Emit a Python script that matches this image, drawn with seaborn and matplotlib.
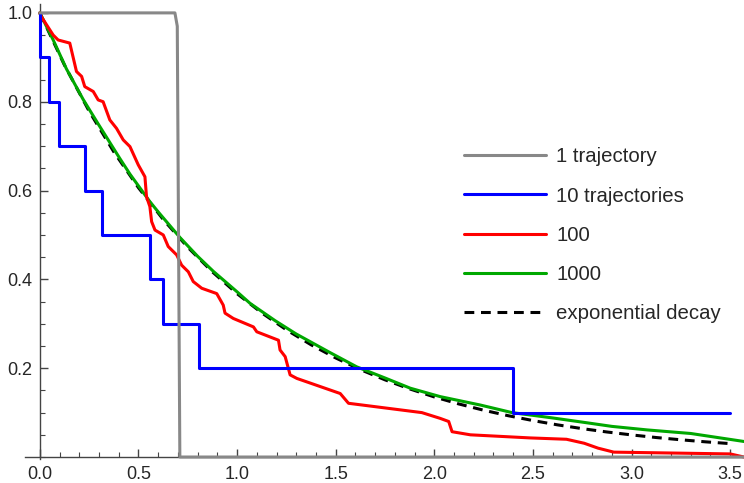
import matplotlib
matplotlib.use("Agg")
import matplotlib.pyplot as plt
import seaborn as sns
import pandas as pd
from matplotlib.ticker import MultipleLocator, FixedLocator, FixedFormatter

# ---------------- data ----------------
labels = ["1 trajectory", "10 trajectories", "100", "1000", "exponential decay"]

gray_t = [0.0, 0.685, 0.697, 0.710, 3.57]
gray_s = [1.0, 1.0, 0.97, 0.0, 0.0]

blue_t = [0.0, 0.0, 0.047, 0.096, 0.228, 0.313, 0.558, 0.626, 0.807, 2.40, 3.50]
blue_s = [1.0, 0.9, 0.8, 0.7, 0.6, 0.5, 0.4, 0.3, 0.2, 0.1, 0.1]

red_t = [0.0, 0.01, 0.068, 0.093, 0.152, 0.169, 0.186, 0.212, 0.228, 0.271, 0.296,
         0.321, 0.355, 0.389, 0.423, 0.457, 0.499, 0.533, 0.541, 0.558, 0.567, 0.584,
         0.626, 0.651, 0.694, 0.719, 0.753, 0.778, 0.821, 0.897, 0.93, 0.939, 0.981,
         1.083, 1.10, 1.21, 1.218, 1.244, 1.269, 1.303, 1.523, 1.565, 1.937, 2.03,
         2.073, 2.09, 2.183, 2.487, 2.67, 2.76, 2.83, 2.91, 3.50, 3.57]
red_s = [1.0, 0.99, 0.95, 0.939, 0.932, 0.90, 0.868, 0.857, 0.834, 0.823, 0.804,
         0.80, 0.759, 0.74, 0.714, 0.699, 0.658, 0.631, 0.586, 0.564, 0.53, 0.511,
         0.50, 0.474, 0.455, 0.432, 0.417, 0.395, 0.38, 0.368, 0.342, 0.324, 0.312,
         0.293, 0.282, 0.263, 0.241, 0.226, 0.185, 0.177, 0.143, 0.121, 0.10, 0.087,
         0.08, 0.057, 0.05, 0.043, 0.04, 0.031, 0.02, 0.011, 0.007, 0.0]

green_t = [0.0, 0.068, 0.135, 0.22, 0.296, 0.406, 0.457, 0.558, 0.60, 0.711, 0.80,
           0.88, 1.0, 1.066, 1.193, 1.30, 1.472, 1.607, 1.75, 1.878, 2.03, 2.234,
           2.394, 2.60, 2.775, 2.90, 3.08, 3.30, 3.57]
green_s = [1.0, 0.939, 0.874, 0.805, 0.750, 0.672, 0.637, 0.575, 0.552, 0.494, 0.452,
           0.418, 0.372, 0.346, 0.307, 0.277, 0.235, 0.203, 0.178, 0.155, 0.136, 0.117,
           0.100, 0.088, 0.077, 0.069, 0.061, 0.053, 0.035]

exp_t = [0.0, 0.125, 0.25, 0.375, 0.5, 0.625, 0.75, 0.875, 1.0, 1.125, 1.25, 1.375,
         1.5, 1.625, 1.75, 1.875, 2.0, 2.125, 2.25, 2.375, 2.5, 2.625, 2.75, 2.875,
         3.0, 3.125, 3.25, 3.375, 3.5]
exp_s = [1.0, 0.8825, 0.7788, 0.6873, 0.6065, 0.5353, 0.4724, 0.4169, 0.3679, 0.3247,
         0.2865, 0.2528, 0.2231, 0.1969, 0.1738, 0.1534, 0.1353, 0.1194, 0.1054, 0.0930,
         0.0821, 0.0724, 0.0639, 0.0564, 0.0498, 0.0439, 0.0388, 0.0342, 0.0302]

x_ticks = [0.0, 0.5, 1.0, 1.5, 2.0, 2.5, 3.0, 3.5]
x_ticklabels = ["0.0", "0.5", "1.0", "1.5", "2.0", "2.5", "3.0", "3.5"]
y_ticks = [0.2, 0.4, 0.6, 0.8, 1.0]
y_ticklabels = ["0.2", "0.4", "0.6", "0.8", "1.0"]

# ---------------- style ----------------
sns.set_style("white")
plt.rcParams["font.family"] = ["Liberation Sans", "DejaVu Sans"]

fig = plt.figure(figsize=(7.44, 4.83), dpi=100)
ax = fig.add_axes([25 / 744, 0.0501, 719 / 744, 0.9416])

lw = 2.2
series = [
    (exp_t, exp_s, "black", "--", 1),
    (green_t, green_s, "#00A800", "-", 2),
    (red_t, red_s, "#FF0000", "-", 3),
    (blue_t, blue_s, "#0000FF", "-", 4),
    (gray_t, gray_s, "#888888", "-", 5),
]
handles = {}
for (t, s, c, ls, z), lab in zip(series, labels[::-1]):
    df = pd.DataFrame({"t": t, "s": s})
    kw = {}
    if lab == "10 trajectories":
        kw["drawstyle"] = "steps-post"
    sns.lineplot(data=df, x="t", y="s", ax=ax, color=c, linewidth=lw,
                 estimator=None, sort=False, zorder=z, **kw)
    line = ax.lines[-1]
    if ls == "--":
        line.set_dashes((3.2, 2.2))
    handles[lab] = line

ax.set_xlim(-0.075, 3.57)
ax.set_ylim(-0.004, 1.02)
ax.set_xlabel("")
ax.set_ylabel("")

for side in ["top", "right"]:
    ax.spines[side].set_visible(False)
ax.spines["left"].set_position(("data", 0))
ax.spines["bottom"].set_position(("data", 0))
for side in ["left", "bottom"]:
    ax.spines[side].set_color("#444444")
    ax.spines[side].set_linewidth(1.0)
    ax.spines[side].set_zorder(0.5)

ax.xaxis.set_major_locator(FixedLocator(x_ticks))
ax.xaxis.set_major_formatter(FixedFormatter(x_ticklabels))
ax.xaxis.set_minor_locator(MultipleLocator(0.1))
ax.yaxis.set_major_locator(FixedLocator(y_ticks))
ax.yaxis.set_major_formatter(FixedFormatter(y_ticklabels))
ax.yaxis.set_minor_locator(MultipleLocator(0.05))

ax.tick_params(which="both", direction="in", color="#444444", bottom=True, left=True,
               top=False, right=False)
ax.tick_params(which="major", length=5.5, width=1.0, labelsize=13)
ax.tick_params(which="minor", length=3.3, width=0.8)
ax.tick_params(axis="x", which="major", pad=6.5)
ax.tick_params(axis="y", which="major", pad=5.5)

leg = ax.legend([handles[l] for l in labels], labels, loc="upper left",
                bbox_to_anchor=(446 / 744, 1 - 129 / 483), bbox_transform=fig.transFigure,
                frameon=False, fontsize=14.7, handlelength=4.0, handletextpad=0.49,
                labelspacing=0.99, borderpad=0.4)

fig.savefig("out.png", dpi=100)
